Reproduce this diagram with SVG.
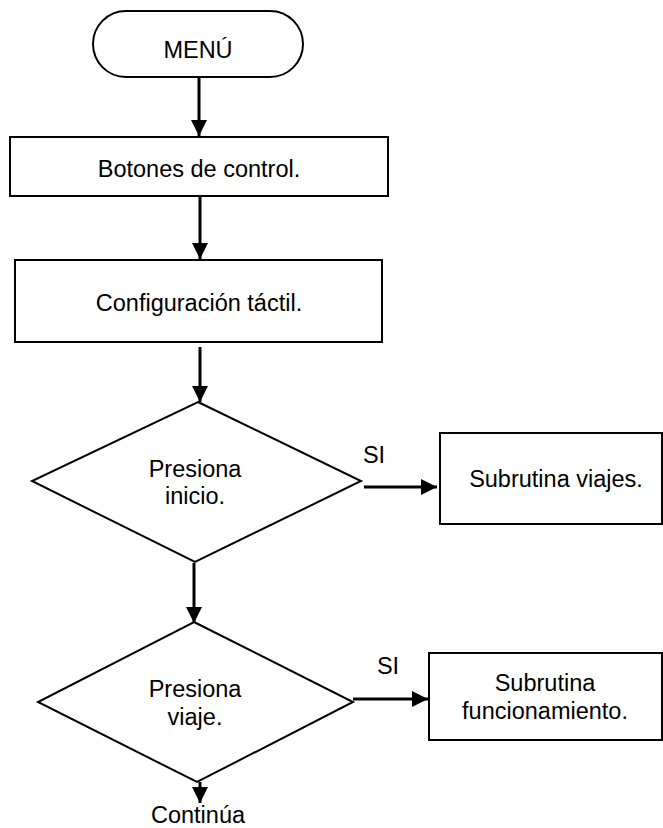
<svg xmlns="http://www.w3.org/2000/svg" width="663" height="828" viewBox="0 0 663 828">
  <style>
    .shape { fill: #ffffff; stroke: #000000; stroke-width: 2; }
    .label { font-family: "Liberation Sans", Arial, sans-serif; font-size: 23.5px; fill: #000000; text-anchor: middle; }
    .flow { stroke: #000000; stroke-width: 3; fill: none; marker-end: url(#head); }
  </style>
  <defs>
    <marker id="head" viewBox="0 0 16 16" refX="16" refY="8" markerWidth="16" markerHeight="16" markerUnits="userSpaceOnUse" orient="auto">
      <path d="M0,0 L16,8 L0,16 Z" fill="#000000"/>
    </marker>
  </defs>

  <!-- connectors -->
  <g id="connectors">
    <line class="flow" x1="199" y1="77" x2="199" y2="136"/>
    <line class="flow" x1="200" y1="197" x2="200" y2="259"/>
    <line class="flow" x1="200" y1="347" x2="200" y2="402"/>
    <line class="flow" x1="364" y1="487" x2="437" y2="487"/>
    <line class="flow" x1="194" y1="563" x2="194" y2="623"/>
    <line class="flow" x1="353" y1="699" x2="428" y2="699"/>
    <line class="flow" x1="200" y1="782" x2="200" y2="803"/>
    <text class="label" x="374" y="463">SI</text>
    <text class="label" x="388" y="674">SI</text>
  </g>

  <g id="menu">
    <rect class="shape" x="93" y="11" width="210" height="66" rx="33" ry="33"/>
    <text class="label" x="198" y="58">MENÚ</text>
  </g>

  <g id="botones">
    <rect class="shape" x="10" y="137" width="378" height="59"/>
    <text class="label" x="199" y="177">Botones de control.</text>
  </g>

  <g id="configuracion">
    <rect class="shape" x="15" y="260" width="367" height="82"/>
    <text class="label" x="199" y="311">Configuración táctil.</text>
  </g>

  <g id="presiona-inicio">
    <polygon class="shape" points="198,402 361,481 195,562 32,481"/>
    <text class="label" x="195" y="477">Presiona</text>
    <text class="label" x="195" y="504">inicio.</text>
  </g>

  <g id="subrutina-viajes">
    <rect class="shape" x="440" y="433" width="222" height="91"/>
    <text class="label" x="556" y="487">Subrutina viajes.</text>
  </g>

  <g id="presiona-viaje">
    <polygon class="shape" points="194,622 353,702 197,782 38,702"/>
    <text class="label" x="195" y="697">Presiona</text>
    <text class="label" x="195" y="725">viaje.</text>
  </g>

  <g id="subrutina-funcionamiento">
    <rect class="shape" x="429" y="653" width="233" height="87"/>
    <text class="label" x="545" y="691">Subrutina</text>
    <text class="label" x="545" y="719">funcionamiento.</text>
  </g>

  <g id="continua">
    <text class="label" x="198" y="823">Continúa</text>
  </g>
</svg>
